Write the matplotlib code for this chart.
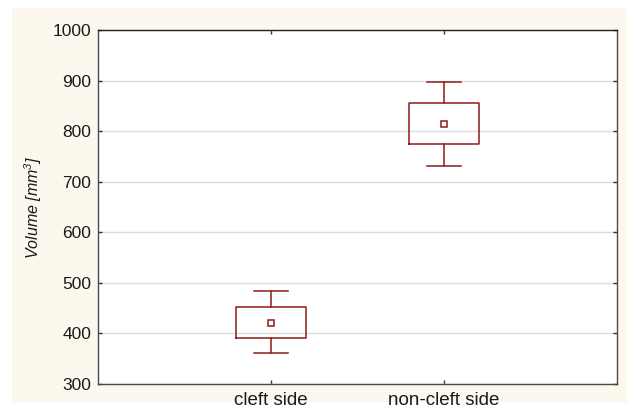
import matplotlib
matplotlib.use("Agg")
import matplotlib.pyplot as plt
from matplotlib.patches import Rectangle

plt.rcParams["mathtext.fontset"] = "custom"
plt.rcParams["mathtext.rm"] = "Liberation Sans:italic"
plt.rcParams["mathtext.it"] = "Liberation Sans:italic"

categories = ["cleft side", "non-cleft side"]
means = [420, 814]
box_low = [390, 774]
box_high = [452, 856]
whisker_low = [361, 732]
whisker_high = [484, 898]
yticks = [300, 400, 500, 600, 700, 800, 900, 1000]

red = "#8e1b1b"

fig = plt.figure(figsize=(6.27, 4.12), dpi=100)
fig.patch.set_facecolor("white")
fig.patches.append(Rectangle((12/627, 1-402/412), (627-12)/627, (402-8)/412,
                             transform=fig.transFigure, facecolor="#fdf8ee",
                             edgecolor="none", zorder=-10))
ax = fig.add_axes([98/627, 1-384/412, (617-98)/627, (384-30)/412])
ax.set_facecolor("white")

stats = []
for i, c in enumerate(categories):
    stats.append(dict(label=c, med=means[i], mean=means[i], q1=box_low[i], q3=box_high[i],
                      whislo=whisker_low[i], whishi=whisker_high[i], fliers=[]))
positions = list(range(1, len(categories) + 1))
ax.bxp(stats, positions=positions, widths=0.405, showmeans=True, showfliers=False,
       boxprops=dict(color=red, linewidth=1.1),
       whiskerprops=dict(color=red, linewidth=1.1),
       capprops=dict(color=red, linewidth=1.1),
       capwidths=0.2,
       medianprops=dict(visible=False),
       meanprops=dict(marker="s", markerfacecolor="white", markeredgecolor=red,
                      markersize=4, markeredgewidth=1.1),
       zorder=3)

ax.set_xlim(0, 3)
ax.set_ylim(300, 1000)
ax.set_yticks(yticks)
ax.set_xticks(positions)
ax.set_xticklabels(categories)
ax.yaxis.grid(True, color="#dcdcdc", linewidth=1)
ax.set_axisbelow(True)

for s in ax.spines.values():
    s.set_color("#4a4a4a")
    s.set_linewidth(1)
ax.spines["top"].set_color("#222222")

ax.tick_params(axis="both", direction="in", length=3, width=1, color="#333333",
               top=True, right=True, labelcolor="#1a1a1a")
ax.tick_params(axis="y", labelsize=12.5, pad=5)
ax.tick_params(axis="x", labelsize=13.5, pad=6)
for lab in ax.get_xticklabels() + ax.get_yticklabels():
    lab.set_family("Liberation Sans")

ax.set_ylabel("Volume [mm$^3$]", fontsize=11.5, style="italic", family="Liberation Sans",
              labelpad=6, color="#1a1a1a")

fig.savefig("out.png", dpi=100, facecolor=fig.get_facecolor())
